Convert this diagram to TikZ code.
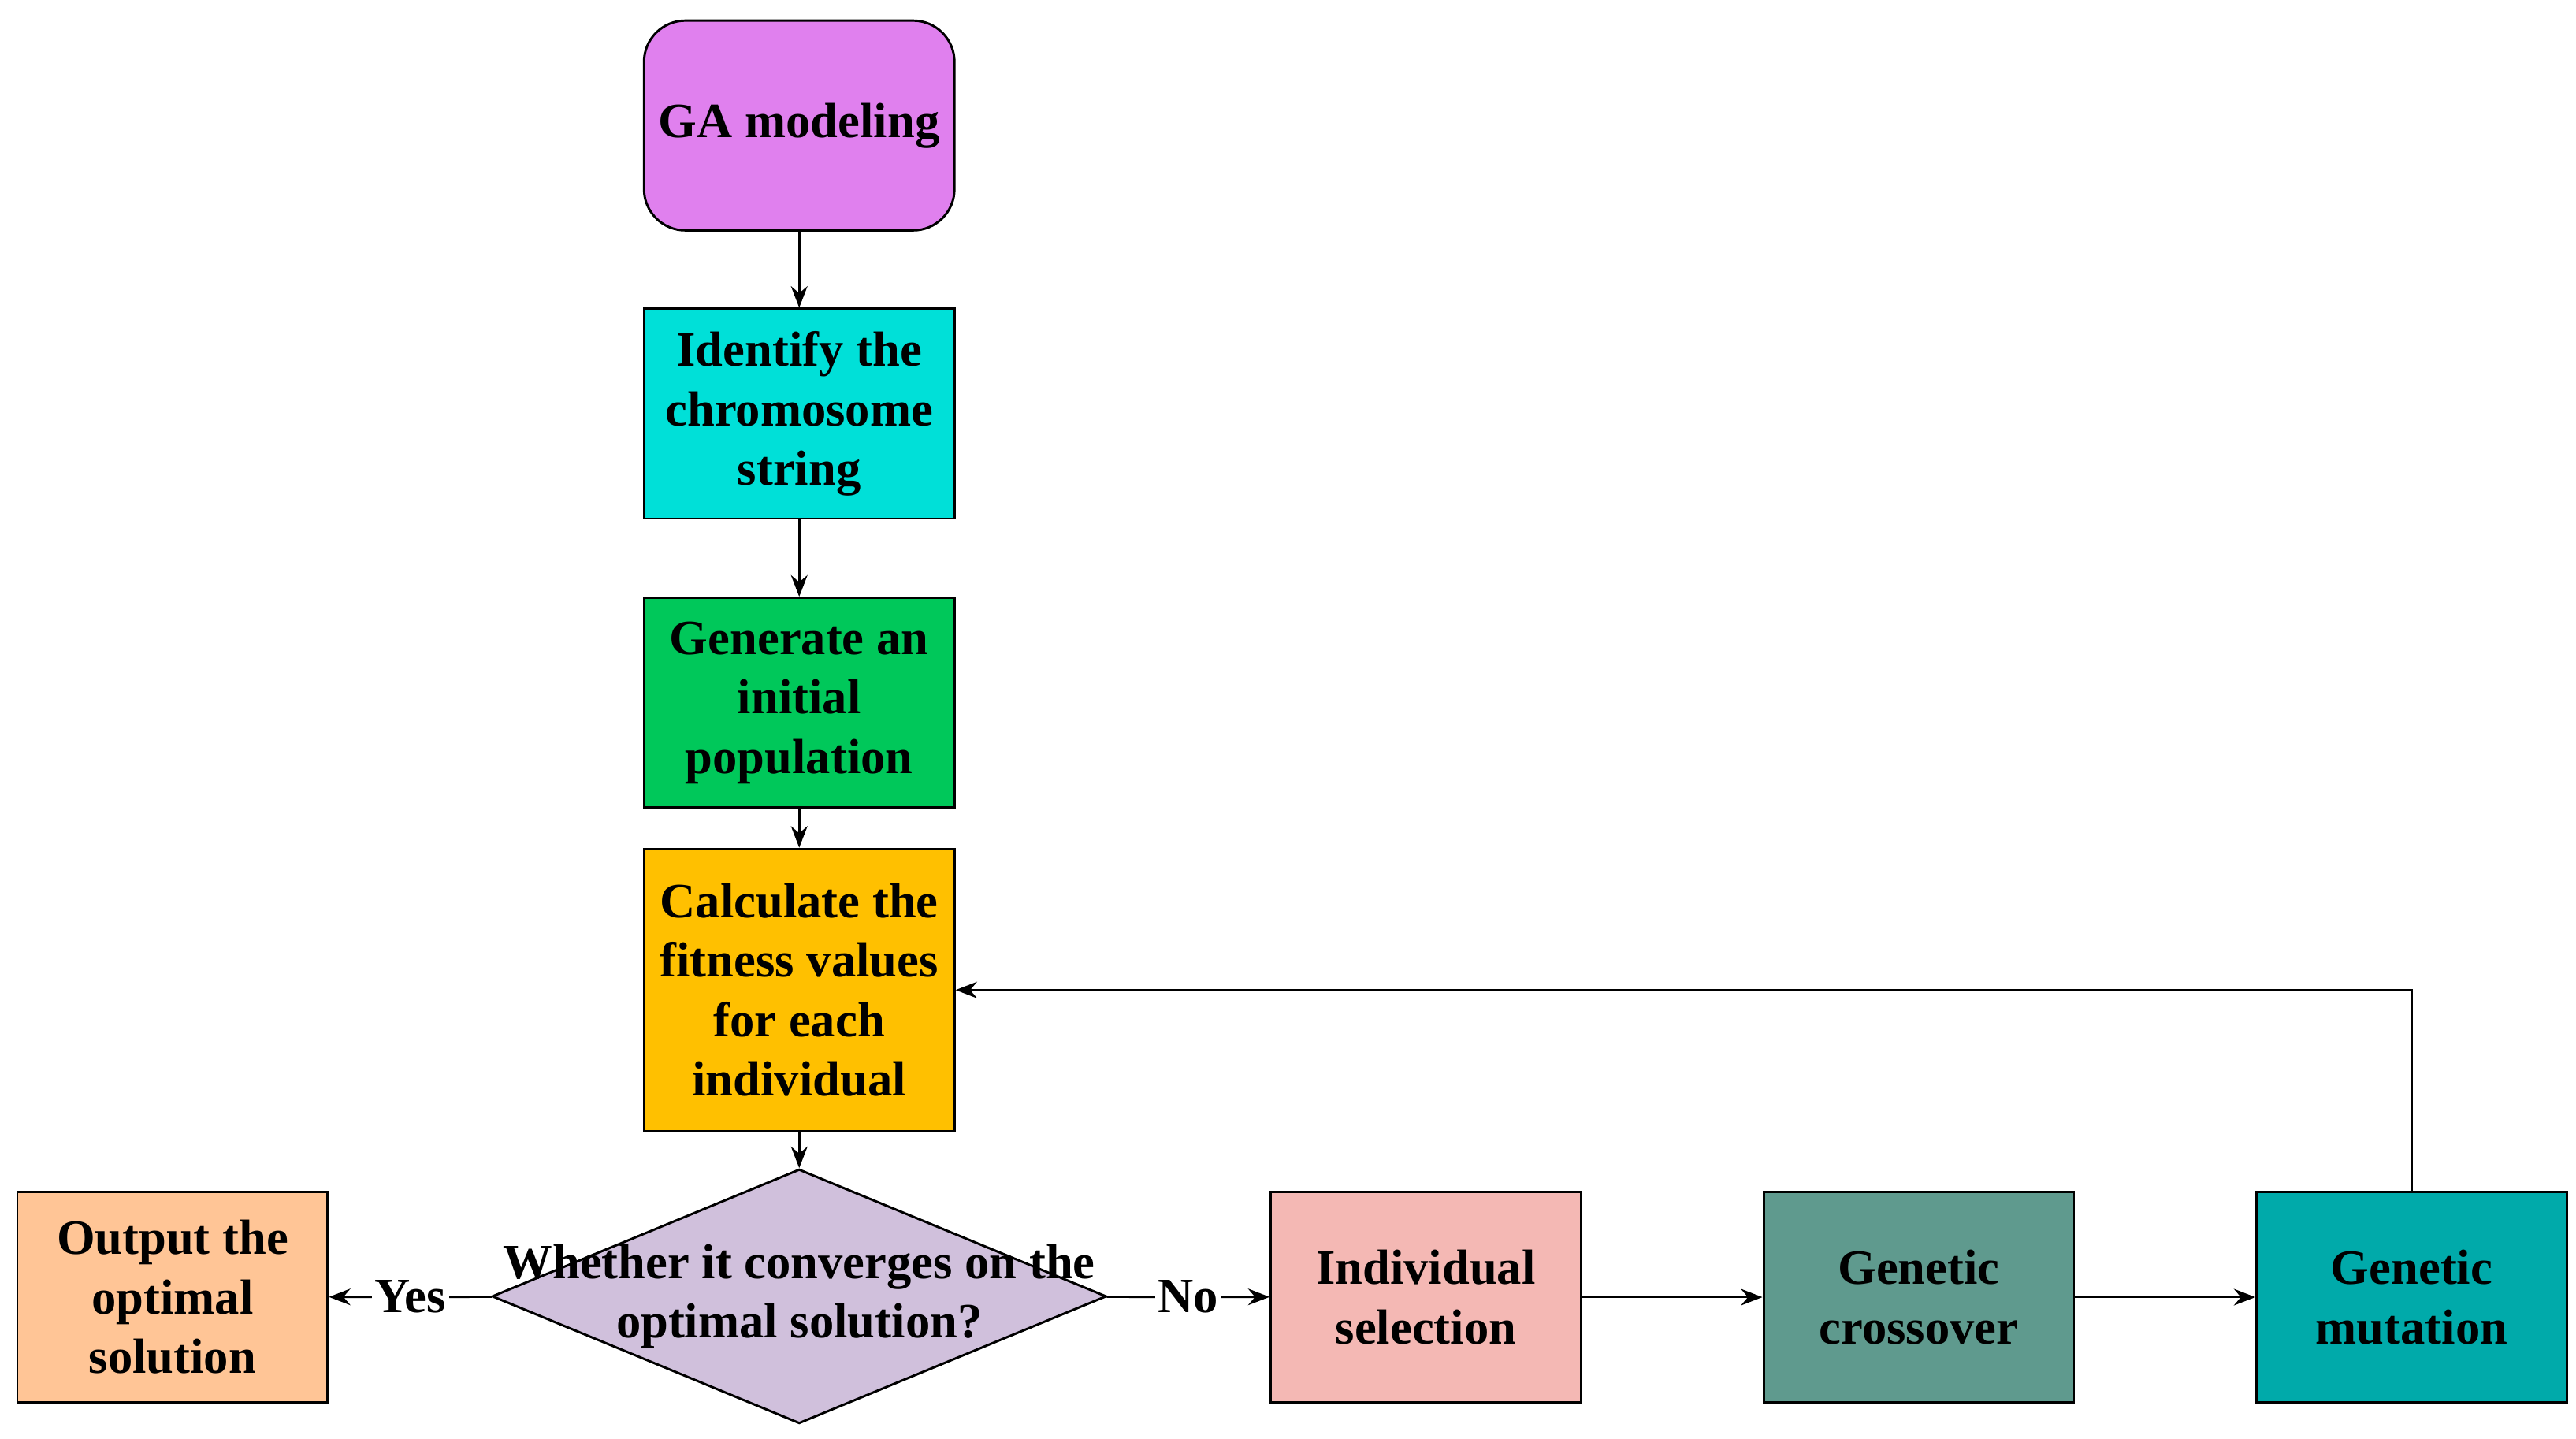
\documentclass[tikz,border=0pt]{standalone}
\usepackage{fontspec}
\setmainfont{Liberation Serif}
\usetikzlibrary{shapes.geometric,arrows.meta,positioning}
\definecolor{cGA}{HTML}{E080EE}
\definecolor{cId}{HTML}{00E0D8}
\definecolor{cGen}{HTML}{00C85A}
\definecolor{cCalc}{HTML}{FFC000}
\definecolor{cDec}{HTML}{D0C0DC}
\definecolor{cOut}{HTML}{FFC596}
\definecolor{cSel}{HTML}{F4B8B4}
\definecolor{cCross}{HTML}{5F9A8E}
\definecolor{cMut}{HTML}{00AAAA}
\begin{document}
\begin{tikzpicture}[
	line width=0.8pt,
	>={Stealth[length=2.6mm,width=2mm]},
	every node/.style={font=\bfseries\fontsize{17}{20.5}\selectfont},
	stage/.style={
		rectangle,
		draw=black,
		align=center,
		inner sep=0pt,
		minimum width=3.76cm,
		minimum height=2.54cm
		},
	tag/.style={fill=white, inner sep=1pt}
]
\useasboundingbox (0,0) rectangle (31.2,-17.42);

% Main column
\node [stage, rounded corners=0.5cm, fill=cGA] (GA) at (9.68,-1.52) {GA modeling};
\node [stage, fill=cId] (Identify) at (9.68,-5.01) {Identify the\\chromosome\\string};
\node [stage, fill=cGen] (Generate) at (9.68,-8.51) {Generate an\\initial\\population};
\node [stage, fill=cCalc, minimum height=3.42cm] (Calculate) at (9.68,-11.99) {Calculate the\\fitness values\\for each\\individual};
\node [diamond, draw=black, fill=cDec, minimum width=7.44cm, minimum height=3.08cm, inner sep=0pt,
	label={[align=center]center:Whether it converges on the\\optimal solution?}] (Converge) at (9.68,-15.7) {};

% Bottom row
\node [stage, fill=cOut] (Output) at (2.09,-15.71) {Output the\\optimal\\solution};
\node [stage, fill=cSel] (Selection) at (17.27,-15.71) {Individual\\selection};
\node [stage, fill=cCross] (Crossover) at (23.24,-15.71) {Genetic\\crossover};
\node [stage, fill=cMut] (Mutation) at (29.21,-15.71) {Genetic\\mutation};

% Connectors
\draw [->] (GA) -- (Identify);
\draw [->] (Identify) -- (Generate);
\draw [->] (Generate) -- (Calculate);
\draw [->] (Calculate) -- (Converge);
\draw [->] (Converge) -- node [tag] {Yes} (Output);
\draw [->] (Converge) -- node [tag] {No} (Selection);
\draw [->] (Selection) -- (Crossover);
\draw [->] (Crossover) -- (Mutation);
\draw [->] (Mutation.north) |- (Calculate.east);

\end{tikzpicture}
\end{document}
